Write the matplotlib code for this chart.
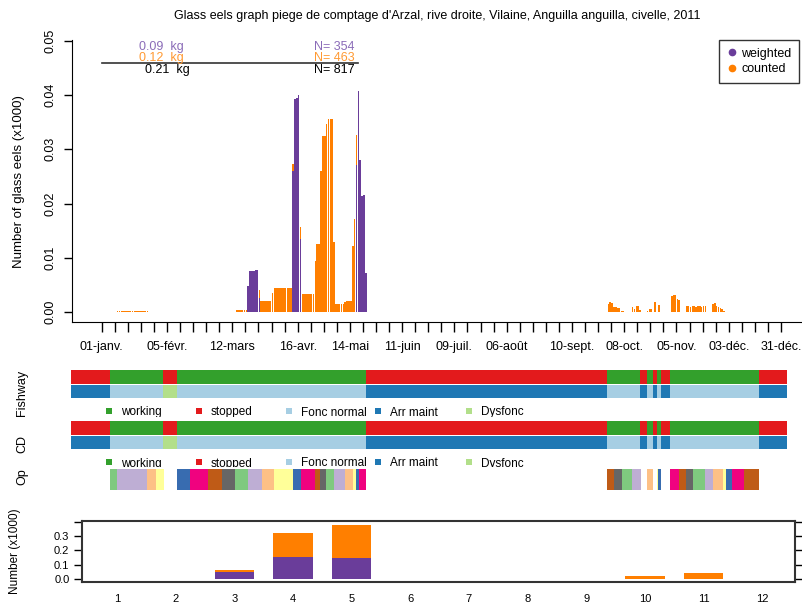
import matplotlib

matplotlib.use("Agg")
import matplotlib.pyplot as plt
import numpy as np
from matplotlib.lines import Line2D
from matplotlib.patches import Rectangle

plt.rcParams["font.family"] = ["Liberation Sans", "DejaVu Sans"]

W, H = 803, 606
PURPLE = "#6A3D9A"
ORANGE = "#FF7F00"

# ---- daily data (day of year 2011, 0 = 01-janv.), thousands of glass eels
weighted_days = [78, 79, 80, 81, 82, 83, 84, 102, 103, 104, 105, 106,
                 136, 137, 138, 139, 140, 141]
weighted_vals = [0.0048, 0.0076, 0.0076, 0.0076, 0.0078, 0.0078, 0.0026,
                 0.0259, 0.0392, 0.0394, 0.0399, 0.0135,
                 0.0271, 0.0407, 0.0280, 0.0214, 0.0216, 0.0073]

counted_days = (list(range(8, 25)) + [71, 72, 73, 74, 75, 76, 77, 84]
                + list(range(85, 91)) + [91] + list(range(92, 102)) + [102, 106]
                + list(range(107, 114)) + [114, 115, 116, 117, 118, 119, 120, 121, 122, 123, 124]
                + [125, 126, 127, 128, 129, 130, 131, 132, 133, 134, 135, 136]
                + list(range(271, 280)) + list(range(284, 289)) + [292, 293, 294, 296, 298]
                + list(range(305, 310)) + list(range(313, 324)) + list(range(327, 334)))
counted_vals = ([0.0002] * 17 + [0.0001] + [0.0004] * 6 + [0.0014]
                + [0.002] * 6 + [0.0035] + [0.0044] * 10 + [0.0014, 0.0022]
                + [0.0033] * 7 + [0.0094, 0.0125, 0.0125, 0.0259, 0.0325, 0.0325, 0.0346,
                                  0.0356, 0.0356, 0.0356, 0.0129]
                + [0.00145] * 5 + [0.0019, 0.0021, 0.0021, 0.0021, 0.0121, 0.0171, 0.0055]
                + [0.0015, 0.0019, 0.0017, 0.0010, 0.0009, 0.0007, 0.0007, 0.0003, 0.0003]
                + [0.0010, 0.0005, 0.0011, 0.0011, 0.0004]
                + [0.0003, 0.0005, 0.0005, 0.0019, 0.0013]
                + [0.0030, 0.0032, 0.0032, 0.0024, 0.0023]
                + [0.0011, 0.0011, 0.0010, 0.0011, 0.0011, 0.0010, 0.0011, 0.0011, 0.0010, 0.0011, 0.0011]
                + [0.0015, 0.0017, 0.0011, 0.0010, 0.0008, 0.0005, 0.0003])

tick_days = list(range(0, 365, 7))
tick_label_days = {0: "01-janv.", 35: "05-févr.", 70: "12-mars", 105: "16-avr.",
                   133: "14-mai", 161: "11-juin", 189: "09-juil.", 217: "06-août",
                   252: "10-sept.", 280: "08-oct.", 308: "05-nov.", 336: "03-déc.",
                   364: "31-déc."}

# ---- operation periods (day of year)
df_bounds = [0, 20, 47, 54, 150.4, 273.2, 290, 293.6, 296.7, 298.7, 300.8, 305.4, 350.7, 365]
df_state = ["stopped", "working", "stopped", "working", "stopped", "working", "stopped",
            "working", "stopped", "working", "stopped", "working", "stopped"]
df_type = ["Arr maint", "Fonc normal", "Dysfonc", "Fonc normal", "Arr maint", "Fonc normal",
           "Arr maint", "Fonc normal", "Arr maint", "Fonc normal", "Arr maint",
           "Fonc normal", "Arr maint"]

op_start = [20, 23.4, 38.7, 43.3, 54, 60.7, 69.8, 77, 83.6, 90.2, 97.4, 103.5, 113.2,
            117.3, 124.4, 126.9, 130, 134.1, 139.7, 143.8, 145.3, 146.8,
            273.2, 276.8, 280.9, 286, 293.6, 298.7, 299.2, 305.4, 310, 313.5, 317.1,
            323.2, 327.3, 332.4, 333.9, 337, 343.1]
op_end = [23.4, 38.7, 43.3, 47.4, 60.7, 69.8, 77, 83.6, 90.2, 97.4, 103.5, 113.2, 117.3,
          124.4, 126.9, 130, 134.1, 139.7, 143.8, 145.3, 146.8, 150.4,
          276.8, 280.9, 286, 290.6, 296.7, 299.2, 300.8, 310, 313.5, 317.1, 323.2,
          327.3, 332.4, 333.9, 337, 343.1, 350.7]

# ---- monthly totals
months = list(range(1, 13))
month_weighted = [0, 0, 0.050, 0.155, 0.149, 0, 0, 0, 0, 0, 0, 0]
month_counted = [0, 0, 0.010, 0.165, 0.225, 0, 0, 0, 0, 0.022, 0.041, 0]

state_colors = {"working": "#33A02C", "stopped": "#E31A1C"}
type_colors = {"Fonc normal": "#A6CEE3", "Arr maint": "#1F78B4", "Dysfonc": "#B2DF8A"}
accent = ["#7FC97F", "#BEAED4", "#FDC086", "#FFFF99", "#386CB0", "#F0027F", "#BF5B17", "#666666"]


def px_axes(fig, left, top, right, bottom):
    return fig.add_axes([left / W, 1 - bottom / H, (right - left) / W, (bottom - top) / H])


fig = plt.figure(figsize=(W / 100, H / 100), dpi=100, facecolor="white")
fig.text(437 / W, 1 - 16 / H, "Glass eels graph piege de comptage d'Arzal, rive droite, Vilaine, "
         "Anguilla anguilla, civelle, 2011", ha="center", va="center", fontsize=9)

# ---- top panel: daily numbers
ax = px_axes(fig, 71.7, 40, 803, 322.3)
w_arr = np.zeros(366)
w_arr[weighted_days] = weighted_vals
ax.bar(np.array(weighted_days) + 0.5, weighted_vals, width=0.88, color=PURPLE, linewidth=0)
ax.bar(np.array(counted_days) + 0.5, counted_vals, bottom=w_arr[counted_days], width=0.88,
       color=ORANGE, linewidth=0)
ax.set_xlim(-16.1, 375.8)
ax.set_ylim(-0.00186, 0.0501)
for s in ["top", "right"]:
    ax.spines[s].set_visible(False)
ax.set_yticks([0, 0.01, 0.02, 0.03, 0.04, 0.05])
ax.set_yticklabels(["0.00", "0.01", "0.02", "0.03", "0.04", "0.05"], rotation=90, va="center")
ax.set_xticks(tick_days)
ax.set_xticklabels([tick_label_days.get(d, "") for d in tick_days])
ax.tick_params(axis="y", length=6, width=1, pad=5, labelsize=9)
ax.tick_params(axis="x", length=7.5, width=1, pad=6, labelsize=9)
ax.set_ylabel("Number of glass eels (x1000)", fontsize=9.5)
ax.yaxis.set_label_coords(-0.064, 0.5)

ax.plot([0, 137.5], [0.0459, 0.0459], color="#333333", lw=1.2)
ax.text(32, 0.0488, "0.09  kg", color="#8B6CB8", fontsize=9, ha="center", va="center")
ax.text(32, 0.0467, "0.12  kg", color="#FF9A33", fontsize=9, ha="center", va="center")
ax.text(35, 0.0446, "0.21  kg", color="black", fontsize=9, ha="center", va="center")
ax.text(124.5, 0.0488, "N= 354", color="#8B6CB8", fontsize=9, ha="center", va="center")
ax.text(124.5, 0.0467, "N= 463", color="#FF9A33", fontsize=9, ha="center", va="center")
ax.text(124.5, 0.0446, "N= 817", color="black", fontsize=9, ha="center", va="center")

handles = [Line2D([], [], marker="o", ls="", color=PURPLE, markersize=4.5, label="weighted"),
           Line2D([], [], marker="o", ls="", color=ORANGE, markersize=4.5, label="counted")]
leg = ax.legend(handles=handles, loc="upper right", bbox_to_anchor=(0.9945, 1.0),
                borderaxespad=0, fontsize=9, frameon=True, fancybox=False, edgecolor="black",
                handletextpad=0.3, borderpad=0.6, labelspacing=0.3, handlelength=0.9)
leg.get_frame().set_linewidth(1.0)


# ---- strips
def strip_block(top, clip_bottom, label, label_y):
    sax = px_axes(fig, 71, top, 787, clip_bottom)
    sax.set_xlim(0, 365)
    sax.set_ylim(clip_bottom - top, 0)
    sax.axis("off")
    for i in range(len(df_state)):
        x0, x1 = df_bounds[i], df_bounds[i + 1]
        sax.add_patch(Rectangle((x0, 0), x1 - x0, 14, color=state_colors[df_state[i]], lw=0))
        sax.add_patch(Rectangle((x0, 15), x1 - x0, 13, color=type_colors[df_type[i]], lw=0))
    items = [("working", "#33A02C", 109), ("stopped", "#E31A1C", 199),
             ("Fonc normal", "#A6CEE3", 289), ("Arr maint", "#1F78B4", 378),
             ("Dysfonc", "#B2DF8A", 469)]
    for name, col, xp in items:
        xd = (xp - 71) / 716 * 365
        sax.add_patch(Rectangle((xd - 1.7, 37.5), 3.4, 6.5, color=col, lw=0))
        sax.text(xd + 6, 42.5, name, fontsize=8.5, va="center", ha="left", clip_on=True)
    fig.text(22 / W, 1 - label_y / H, label, rotation=90, ha="center", va="center", fontsize=9)


strip_block(370, 416.5, "Fishway", 393)
strip_block(421, 467, "CD", 444)

oax = px_axes(fig, 71, 469, 787, 490)
oax.set_xlim(0, 365)
oax.set_ylim(0, 1)
oax.axis("off")
for i, (s, e) in enumerate(zip(op_start, op_end)):
    oax.add_patch(Rectangle((s, 0), e - s, 1, color=accent[i % 8], lw=0))
fig.text(22 / W, 1 - 477 / H, "Op", rotation=90, ha="center", va="center", fontsize=9)

# ---- bottom panel: monthly totals
bax = px_axes(fig, 82, 521, 795, 582)
bax.bar(months, month_weighted, width=0.67, color=PURPLE, linewidth=0)
bax.bar(months, month_counted, bottom=month_weighted, width=0.67, color=ORANGE, linewidth=0)
bax.set_xlim(0.403, 12.56)
bax.set_ylim(-0.021, 0.404)
bax.set_xticks(months)
bax.set_xticklabels([str(m) for m in months])
bax.set_yticks([0, 0.1, 0.2, 0.3, 0.4])
bax.set_yticklabels(["0.0", "0.1", "0.2", "0.3", ""])
bax.tick_params(axis="x", length=0, pad=9, labelsize=8)
bax.tick_params(axis="y", length=6, width=1, pad=3, labelsize=8, right=True)
for s in bax.spines.values():
    s.set_linewidth(1.5)
    s.set_color("#333333")
bax.set_ylabel("Number (x1000)", fontsize=8.5)
bax.yaxis.set_label_coords(-0.085, 0.5)

fig.savefig("out.png", dpi=100, facecolor="white")
